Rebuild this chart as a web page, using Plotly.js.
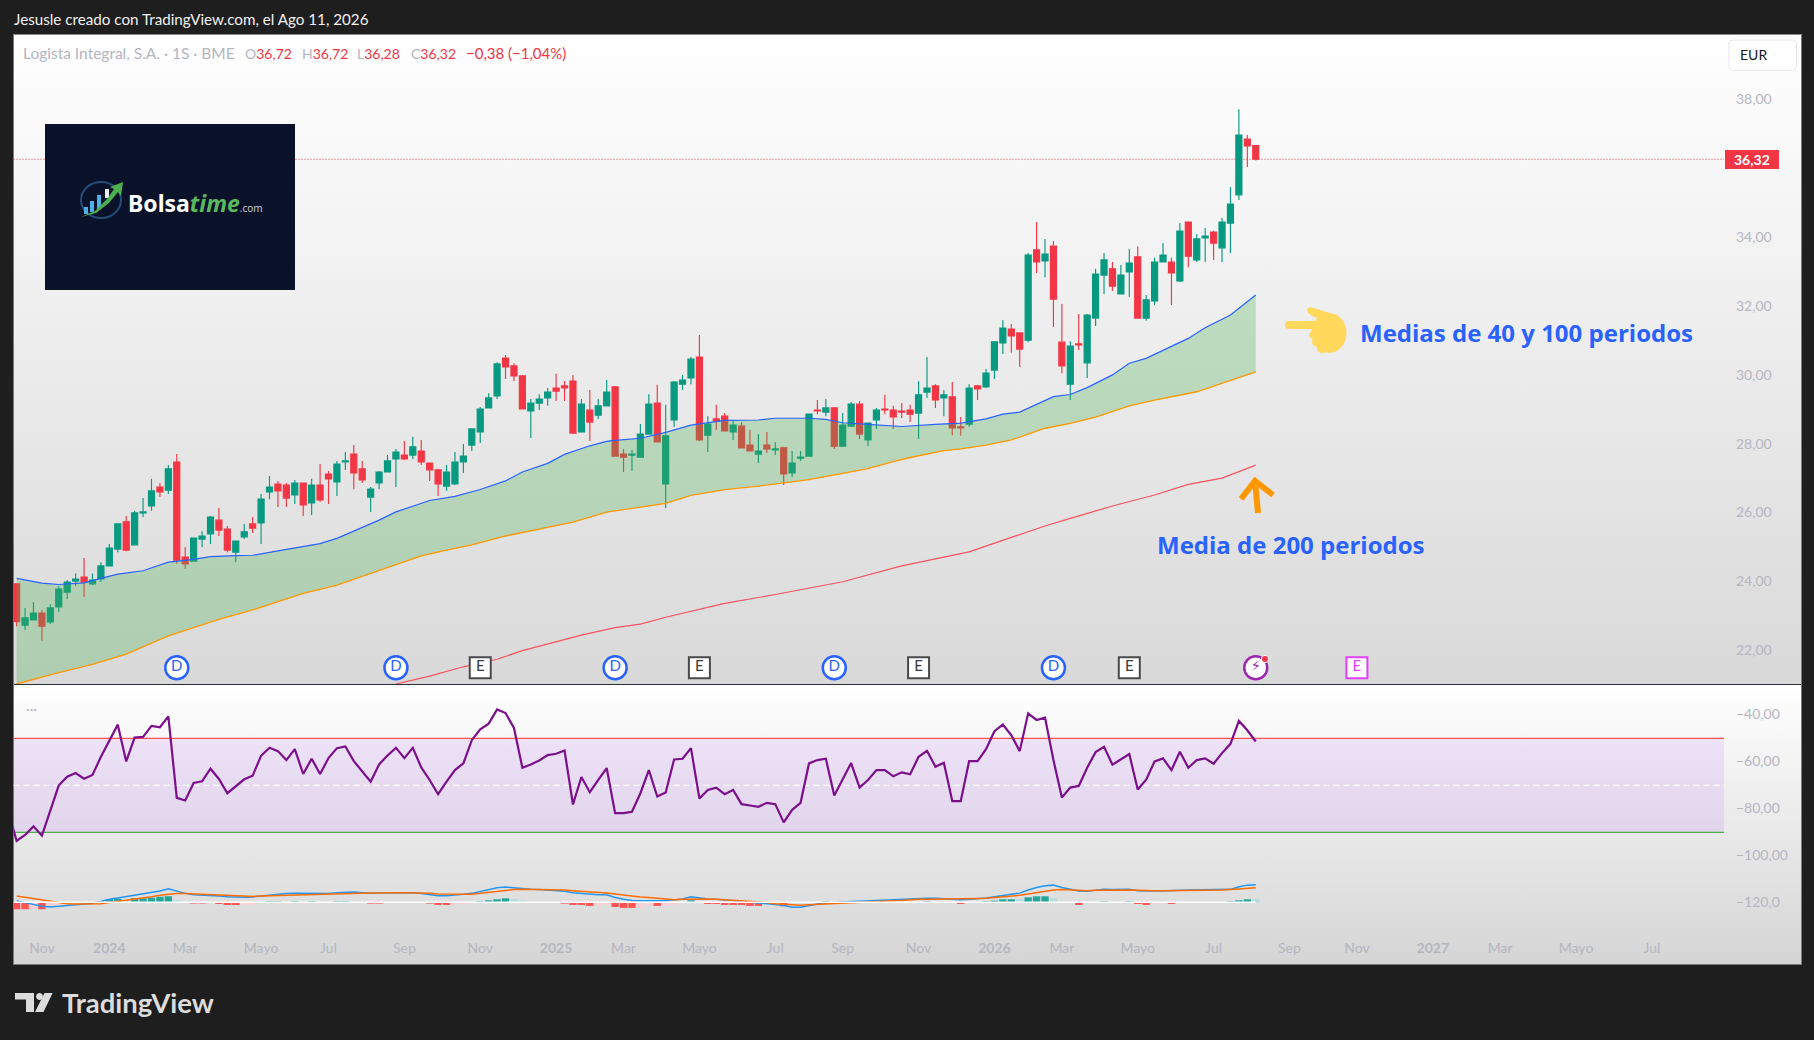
<!DOCTYPE html>
<html><head><meta charset="utf-8">
<script src="https://cdn.plot.ly/plotly-3.0.1.min.js"></script>
<style>
html,body{margin:0;padding:0;background:#1e1e1e;width:1814px;height:1040px;overflow:hidden}
#frame{position:absolute;left:13px;top:34px;width:1787px;height:929px;border:1.5px solid #7a7a7a;border-top-color:#8a8a8a;box-sizing:content-box}
#p1{position:absolute;left:0;top:0;width:100%;height:650px;background:linear-gradient(#ffffff,#d9d9d9);border-bottom:1.5px solid #2a2e39;box-sizing:border-box}
#p2{position:absolute;left:0;top:650px;width:100%;height:279px;background:linear-gradient(#ffffff,#d5d5d5)}
#chart{position:absolute;left:0;top:0;width:1814px;height:1040px}
</style></head><body>
<div id="frame"><div id="p1"></div><div id="p2"></div></div>
<div id="chart"></div>
<script>
// ---------- data ----------
const firstWeek = Date.UTC(2023, 9, 16);
const open = [23.93,22.73,22.88,23.08,22.82,23.26,23.69,24.01,24.13,23.93,
24.07,24.45,24.94,25.73,25.06,25.99,26.19,26.74,26.65,27.47,
24.71,24.59,25.23,25.38,25.78,25.52,24.85,25.29,25.67,25.70,
26.60,26.83,26.80,26.51,26.86,26.28,26.80,27.12,26.89,27.47,
27.70,27.27,26.45,26.86,27.18,27.56,27.67,27.67,27.79,27.44,
27.24,26.77,26.83,27.47,27.96,28.34,29.04,29.39,30.49,30.26,
29.97,28.95,29.18,29.33,29.62,29.68,29.82,28.34,28.98,28.83,
29.10,29.65,27.70,27.67,27.61,28.28,29.18,26.83,28.69,29.73,
29.91,30.52,28.25,28.72,28.80,28.34,28.51,27.96,27.70,27.96,
27.82,27.88,27.15,27.58,27.64,28.98,28.92,29.04,27.93,28.51,
29.15,28.11,28.69,29.01,28.98,28.95,28.98,28.89,29.50,29.68,
29.33,29.36,28.49,28.57,29.68,29.65,30.14,30.93,31.33,31.22,
31.01,33.63,33.31,33.74,30.95,29.73,30.90,30.35,31.65,32.90,
33.08,32.35,32.99,33.43,31.65,32.15,33.28,33.28,32.73,34.44,
33.34,33.98,34.15,33.69,34.41,35.23,36.85];
const high = [23.93,23.23,23.40,23.17,23.34,23.87,24.04,24.23,24.68,24.23,
24.56,25.09,25.67,25.90,26.05,26.42,26.98,26.86,27.38,27.70,
25.00,25.26,25.46,25.90,26.13,25.61,25.17,25.67,25.87,26.54,
27.06,26.92,26.86,26.95,26.86,26.98,27.41,27.21,27.50,27.76,
27.96,27.50,26.74,27.21,27.67,27.85,28.08,28.20,28.11,27.44,
27.27,27.38,27.76,27.99,28.43,29.07,29.47,30.37,30.58,30.34,
30.00,29.30,29.44,29.62,30.03,29.82,30.00,29.30,29.56,29.30,
29.85,29.68,27.85,27.82,28.57,29.44,29.71,29.13,29.82,30.00,
30.52,31.16,28.80,29.13,28.89,28.69,28.63,28.40,28.28,28.34,
28.05,27.91,27.79,27.79,28.86,29.27,29.30,29.07,28.89,29.21,
29.24,28.60,29.04,29.42,29.10,29.18,29.13,29.82,30.52,29.73,
29.56,29.79,28.78,29.73,29.71,30.17,30.96,31.59,31.48,31.22,
33.54,34.44,33.95,33.89,32.06,30.98,31.77,31.77,33.08,33.54,
33.28,33.19,33.66,33.74,32.32,33.40,33.83,33.40,34.41,34.44,
34.09,34.27,34.18,34.56,35.46,37.72,36.97];
const low = [22.70,22.59,22.88,22.28,22.76,23.11,23.49,23.87,23.55,23.89,
23.98,24.45,24.85,24.88,25.06,25.87,26.05,26.45,26.54,24.51,
24.36,24.59,25.00,25.09,25.32,24.85,24.56,25.23,25.41,25.09,
26.39,26.16,26.16,26.25,25.90,25.93,26.31,26.25,26.48,27.24,
26.68,26.86,26.02,26.68,27.18,26.74,27.53,27.56,27.38,26.92,
26.48,26.63,26.80,27.15,27.79,28.02,29.04,29.30,29.88,29.82,
29.01,28.17,28.98,29.10,29.24,29.24,28.28,28.34,28.08,28.72,
29.10,27.64,27.18,27.21,27.61,28.28,28.05,26.13,28.49,29.56,
29.73,28.08,27.76,28.40,28.37,28.11,27.88,27.79,27.44,27.73,
27.67,26.80,27.03,27.50,27.64,28.86,28.80,27.85,27.93,28.49,
28.14,27.93,28.43,28.86,28.43,28.75,28.63,28.14,29.33,29.04,
28.80,28.25,28.23,28.49,29.27,29.62,29.88,30.61,30.64,30.23,
30.95,32.96,32.84,31.39,30.05,29.27,30.72,29.91,31.42,32.35,
32.44,32.35,32.26,31.63,31.57,32.03,33.28,32.03,32.70,33.13,
33.28,33.28,33.34,33.28,33.54,35.08,36.04];
const close = [22.83,22.94,23.08,22.70,23.23,23.78,23.98,24.07,23.98,24.04,
24.45,24.97,25.67,24.91,25.99,26.02,26.63,26.60,27.27,24.62,
24.51,25.26,25.32,25.87,25.49,24.91,25.17,25.44,25.55,26.39,
26.74,26.63,26.42,26.86,26.22,26.80,26.37,26.98,27.41,27.50,
27.15,26.95,26.68,27.18,27.50,27.76,27.56,27.91,27.47,27.24,
26.83,27.18,27.47,27.64,28.43,29.01,29.33,30.32,30.23,29.97,
29.01,29.18,29.30,29.50,29.53,29.62,28.31,29.15,28.63,29.10,
29.50,27.64,27.61,27.70,28.28,29.15,28.05,28.23,29.79,29.85,
30.46,28.11,28.57,28.66,28.37,28.54,27.88,27.79,27.79,27.85,
27.85,27.12,27.44,27.61,28.86,28.95,29.04,27.93,28.54,29.15,
28.28,28.60,28.98,28.98,28.78,28.92,28.86,29.42,29.62,29.27,
29.42,28.46,28.46,29.62,29.59,30.05,30.96,31.36,31.13,30.75,
33.48,33.28,33.51,32.20,30.26,30.84,30.87,31.74,32.93,33.34,
32.58,32.90,33.25,31.65,32.18,33.28,33.48,32.96,34.18,33.45,
33.95,34.03,33.83,34.44,34.96,36.97,36.65];
// the last bar is the one printed in the chart's header
const lastBar = {open:36.72, high:36.72, low:36.28, close:36.32};
const lastPrice = lastBar.close;

const ma40Weeks = [0,3,5,8,10,12,15,18,21,23,26,28,31,33,36,38,41,43,45,48,49,52,55,58,60,63,65,68,70,71,74,77,80,84,88,90,94,96,98,101,105,109,112,115,117,119,122,123,125,127,130,132,134,136,139,141,144,147];
const ma40 = [24.09,23.95,23.91,23.96,24.09,24.21,24.31,24.56,24.64,24.72,24.75,24.76,24.89,24.98,25.10,25.25,25.57,25.78,26.02,26.28,26.35,26.47,26.67,26.92,27.18,27.43,27.69,27.94,28.07,28.10,28.16,28.33,28.54,28.68,28.69,28.74,28.74,28.71,28.61,28.56,28.50,28.56,28.60,28.72,28.86,28.92,29.27,29.37,29.43,29.63,30.00,30.34,30.48,30.72,31.06,31.37,31.74,32.32];
const ma100Weeks = [0,5,9,13,18,24,28,34,38,43,48,51,54,58,61,66,70,71,74,77,80,84,88,91,94,98,101,104,106,110,112,115,118,120,122,125,128,132,135,140,143,144,147];
const ma100 = [21.02,21.35,21.59,21.89,22.42,22.90,23.17,23.65,23.89,24.31,24.74,24.91,25.06,25.32,25.47,25.72,26.01,26.05,26.15,26.27,26.50,26.67,26.77,26.87,26.96,27.14,27.28,27.48,27.60,27.80,27.85,27.96,28.11,28.28,28.45,28.59,28.77,29.10,29.27,29.51,29.75,29.83,30.09];
const ma200Weeks = [45,49,53,57,60,64,67,71,74,77,80,84,90,98,105,113,118,122,125,130,135,139,143,147];
const ma200 = [21.02,21.25,21.52,21.74,21.99,22.25,22.44,22.66,22.76,22.96,23.14,23.36,23.62,23.99,24.45,24.86,25.28,25.61,25.83,26.19,26.51,26.82,27.00,27.38];

const oscillatorBefore = -80.7;
const oscillator = [-93.69,-91.15,-87.48,-91.43,-80.43,-69.99,-66.32,-64.77,-67.17,-65.61,
-57.85,-50.80,-44.17,-59.83,-49.67,-49.39,-44.73,-45.30,-40.64,-75.35,
-76.48,-69.00,-68.29,-62.93,-67.31,-73.37,-70.55,-67.45,-65.90,-57.43,
-54.04,-55.45,-59.26,-54.61,-65.19,-58.70,-65.19,-58.42,-54.18,-53.48,
-59.69,-63.92,-68.44,-61.10,-57.29,-54.04,-58.42,-54.04,-62.37,-67.73,
-73.80,-68.44,-63.50,-60.68,-50.80,-46.14,-43.74,-37.68,-39.23,-45.58,
-62.51,-61.10,-59.41,-57.15,-56.58,-55.17,-78.17,-66.46,-72.95,-67.73,
-62.65,-81.84,-81.84,-81.28,-73.37,-63.50,-74.79,-73.09,-58.98,-58.70,
-54.18,-75.63,-71.96,-70.98,-73.80,-71.96,-78.03,-78.59,-79.16,-77.47,
-78.03,-85.79,-80.43,-77.47,-60.68,-59.26,-58.70,-74.36,-67.45,-60.53,
-70.98,-67.73,-63.50,-63.50,-66.18,-64.48,-65.33,-57.85,-55.31,-62.09,
-60.39,-76.76,-76.76,-59.69,-59.69,-54.61,-46.99,-44.17,-48.68,-55.45,
-39.37,-42.19,-41.20,-59.26,-75.21,-70.98,-70.27,-62.51,-55.88,-53.62,
-61.24,-58.98,-56.72,-71.82,-67.59,-59.83,-58.56,-63.50,-55.74,-62.51,
-59.26,-58.56,-60.82,-56.30,-52.35,-42.61,-46.57,-51.36];

const macd = [-119.2,-119.9,-120.7,-121.5,-121.8,-121.5,-121.2,-120.8,-120.5,-120.2,
-119.5,-118.5,-118.0,-117.4,-116.8,-116.3,-115.7,-115.0,-114.0,-115.1,
-116.0,-116.6,-116.7,-116.8,-117.1,-117.4,-117.7,-117.7,-117.5,-117.1,
-116.6,-116.3,-116.1,-116.0,-116.0,-116.0,-116.3,-116.1,-115.7,-115.4,
-115.4,-115.7,-116.0,-115.9,-115.9,-115.7,-115.7,-115.7,-116.1,-116.7,
-117.0,-117.0,-116.8,-116.4,-116.0,-115.3,-114.3,-113.6,-113.3,-113.7,
-114.0,-114.3,-114.4,-114.6,-114.7,-115.1,-115.7,-116.0,-116.4,-116.6,
-116.6,-117.8,-118.5,-119.0,-119.1,-119.0,-119.1,-119.2,-118.8,-118.4,
-117.5,-118.1,-118.4,-118.5,-118.8,-119.0,-119.2,-119.5,-120.1,-120.4,
-120.7,-121.2,-121.9,-121.9,-121.1,-120.5,-120.2,-119.9,-119.7,-119.5,
-119.4,-119.2,-119.0,-118.8,-118.8,-118.7,-118.4,-118.2,-118.1,-118.1,
-118.4,-118.5,-118.7,-118.5,-118.4,-118.0,-117.4,-116.8,-116.4,-115.9,
-114.6,-113.5,-112.8,-112.5,-113.5,-114.3,-115.0,-115.1,-114.7,-114.3,
-114.4,-114.4,-114.3,-114.9,-115.1,-115.0,-115.0,-115.0,-114.7,-114.6,
-114.6,-114.6,-114.6,-114.6,-114.3,-113.2,-112.5,-112.3];
const macdSignal = [-117.1,-117.7,-118.2,-118.8,-119.4,-119.9,-120.4,-120.5,-120.5,-120.5,
-120.4,-119.9,-119.4,-119.1,-118.7,-118.1,-117.4,-116.8,-116.4,-116.1,
-116.1,-116.3,-116.3,-116.4,-116.6,-116.8,-117.0,-117.1,-117.3,-117.1,
-117.0,-116.8,-116.7,-116.6,-116.4,-116.4,-116.3,-116.3,-116.0,-115.9,
-115.9,-115.9,-115.9,-115.9,-115.7,-115.7,-115.7,-115.7,-115.9,-116.0,
-116.3,-116.4,-116.6,-116.4,-116.4,-116.0,-115.6,-115.1,-114.7,-114.4,
-114.3,-114.3,-114.4,-114.4,-114.6,-114.6,-114.9,-115.1,-115.4,-115.7,
-115.9,-116.3,-116.8,-117.3,-117.5,-117.8,-118.1,-118.4,-118.7,-118.5,
-118.4,-118.2,-118.4,-118.5,-118.7,-118.8,-119.0,-119.2,-119.7,-119.9,
-120.4,-120.7,-120.9,-121.1,-120.9,-120.7,-120.5,-120.4,-120.2,-119.9,
-119.7,-119.5,-119.2,-119.1,-119.1,-119.0,-118.7,-118.5,-118.5,-118.5,
-118.5,-118.5,-118.4,-118.4,-118.2,-118.1,-117.8,-117.5,-117.3,-116.8,
-116.3,-115.7,-115.0,-114.6,-114.4,-114.6,-114.7,-114.9,-114.7,-114.6,
-114.6,-114.6,-114.6,-114.7,-114.9,-114.9,-114.9,-114.9,-114.9,-114.7,
-114.7,-114.7,-114.6,-114.6,-114.4,-114.2,-113.9,-113.6];
const macdHist = [-2.96,-2.96,-2.9,-2.96,-1.83,-1.55,-0.3,-0.1,0,0,
.42,1.27,1.55,.56,1.69,1.7,1.98,2.4,2.54,.85,
.1,-.56,-.56,-.42,-.71,-1.13,-1.13,-1.1,-1,-.1,
.42,.42,.28,.42,.28,.42,0,0,.42,.42,
.28,0,-.56,-.56,0,0,0,0,0,-.56,
-1.13,-1.13,-.85,-.84,0,.42,.85,1.27,1.69,1.27,
.71,.42,0,0,0,-.56,-1.13,-1.13,-1.55,-1.5,
-.99,-1.98,-2.4,-2.4,-2.38,-1.4,-1.55,-1.5,-.99,0,
.85,.1,-.71,-.71,-1.13,-1.13,-1.13,-1.55,-1.55,-.5,
-.3,-1.7,-.3,-.1,0,.05,.42,.28,.42,.28,
0,0,0,0,0,0,0,0,.42,.1,
0,0,-.71,-.1,0,.42,.71,1.27,1.27,1.25,
2.12,2.54,2.54,1.69,.42,.1,-1.13,-.56,0,.42,
0,0,.42,-.71,-1.13,-.7,0,-.71,0,0,
0,0,0,0,.42,.85,1.27,1.25];
const macdZero = -119.8;
const rsiUpper = -50, rsiMiddle = -70, rsiLower = -90;

const dividendWeeks = [19,45,71,97,123];
const earningsWeeks = [55,81,107,132];
const nextEarningsWeek = 159;
const newsWeek = 147;

const priceTicks = [38,34,32,30,28,26,24,22];
const priceTickText = ['38,00','34,00','32,00','30,00','28,00','26,00','24,00','22,00'];
const oscTicks = [-40,-60,-80,-100,-120];
const oscTickText = ['−40,00','−60,00','−80,00','−100,00','−120,0'];
const timeTicks = ['2023-11-06','2024-01-01','2024-03-04','2024-05-06','2024-07-01','2024-09-02','2024-11-04','2025-01-06','2025-03-03','2025-05-05','2025-07-07','2025-09-01','2025-11-03','2026-01-05','2026-03-02','2026-05-04','2026-07-06','2026-09-07','2026-11-02','2027-01-04','2027-03-01','2027-05-03','2027-07-05'];
const timeTickText = ['Nov','<b>2024</b>','Mar','Mayo','Jul','Sep','Nov','<b>2025</b>','Mar','Mayo','Jul','Sep','Nov','<b>2026</b>','Mar','Mayo','Jul','Sep','Nov','<b>2027</b>','Mar','Mayo','Jul'];

// The price labels sit about 2px above their true level, so readings made
// against them run this far low; the header's last bar shows the size of it.
const labelReadingOffset = 0.055;
const oscLabelOffset = 0.45;
const priceRead = a => a.map(v => v + labelReadingOffset);

// ---------- helpers ----------
const W = 1814, H = 1040;
const X = p => p / W, Y = p => 1 - p / H;
const week = i => new Date(firstWeek + i * 7 * 864e5).toISOString().slice(0, 19).replace('T', ' ');
const dates = macd.map((_, i) => week(i));
const weeks = a => a.map(week);
const P = (pts, closed) => pts.map((q, k) => (k ? 'L' : 'M') + X(q[0]) + ',' + Y(q[1])).join(' ') + (closed ? ' Z' : '');
const ell = (cx, cy, rx, ry) => { const k = .5523;
  const c = (a,b,d,e,f,g)=>`C${X(a)},${Y(b)} ${X(d)},${Y(e)} ${X(f)},${Y(g)}`;
  return `M${X(cx-rx)},${Y(cy)} `+c(cx-rx,cy-ry*k,cx-rx*k,cy-ry,cx,cy-ry)+' '
  +c(cx+rx*k,cy-ry,cx+rx,cy-ry*k,cx+rx,cy)+' '+c(cx+rx,cy+ry*k,cx+rx*k,cy+ry,cx,cy+ry)+' '+c(cx-rx*k,cy+ry,cx-rx,cy+ry*k,cx-rx,cy)+' Z'; };
const round = (x0,y0,x1,y1,r) => `M${X(x0+r)},${Y(y0)} L${X(x1-r)},${Y(y0)} Q${X(x1)},${Y(y0)} ${X(x1)},${Y(y0+r)} L${X(x1)},${Y(y1-r)} Q${X(x1)},${Y(y1)} ${X(x1-r)},${Y(y1)} L${X(x0+r)},${Y(y1)} Q${X(x0)},${Y(y1)} ${X(x0)},${Y(y1-r)} L${X(x0)},${Y(y0+r)} Q${X(x0)},${Y(y0)} ${X(x0+r)},${Y(y0)} Z`;

const FONT = 'Lato, "Noto Sans", sans-serif';
const GREY = '#b4b6c0', RED = '#f23645', TEAL = '#089981';
const xRange = [week(-0.37), week(202.55)];

const histColor = macdHist.map((h, i) => {
  const prev = i ? macdHist[i - 1] : h;
  if (h >= 0) return h >= prev ? '#26a69a' : '#b2dfdb';
  return h <= prev ? '#ff5252' : '#ffcdd2';
});

const markerY = 21.55;
const traces = [
  {type:'candlestick', x:dates,
   open:[...priceRead(open), lastBar.open], high:[...priceRead(high), lastBar.high],
   low:[...priceRead(low), lastBar.low], close:[...priceRead(close), lastBar.close],
   xaxis:'x', yaxis:'y', whiskerwidth:0,
   increasing:{line:{color:TEAL,width:1.15},fillcolor:TEAL},
   decreasing:{line:{color:RED,width:1.15},fillcolor:RED}, hoverinfo:'skip'},
  {type:'scatter', mode:'lines', x:weeks(ma100Weeks), y:priceRead(ma100), xaxis:'x', yaxis:'y', line:{color:'#ff9800',width:1.3}, hoverinfo:'skip'},
  {type:'scatter', mode:'lines', x:weeks(ma40Weeks), y:priceRead(ma40), xaxis:'x', yaxis:'y', line:{color:'#2962ff',width:1.2},
   fill:'tonexty', fillcolor:'rgba(76,175,80,0.3)', hoverinfo:'skip'},
  {type:'scatter', mode:'lines', x:weeks(ma200Weeks), y:priceRead(ma200), xaxis:'x', yaxis:'y', line:{color:'#f7525f',width:1.2}, hoverinfo:'skip'},
  {type:'scatter', mode:'markers+text', x:weeks(dividendWeeks), y:dividendWeeks.map(()=>markerY), xaxis:'x', yaxis:'y',
   marker:{symbol:'circle',size:23,color:'#ffffff',line:{color:'#2962ff',width:2.5}}, text:dividendWeeks.map(()=>'D'),
   textposition:'middle center', textfont:{family:FONT,size:15,color:'#2962ff'}, hoverinfo:'skip'},
  {type:'scatter', mode:'markers+text', x:weeks(earningsWeeks), y:earningsWeeks.map(()=>markerY), xaxis:'x', yaxis:'y',
   marker:{symbol:'square',size:21,color:'#ffffff',line:{color:'#4a4a4a',width:2}}, text:earningsWeeks.map(()=>'E'),
   textposition:'middle center', textfont:{family:FONT,size:15,color:'#3a3a3a'}, hoverinfo:'skip'},
  {type:'scatter', mode:'markers+text', x:[week(nextEarningsWeek)], y:[markerY], xaxis:'x', yaxis:'y',
   marker:{symbol:'square',size:21,color:'#ffffff',line:{color:'#e040fb',width:2}}, text:['E'],
   textposition:'middle center', textfont:{family:FONT,size:15,color:'#e040fb'}, hoverinfo:'skip'},
  {type:'scatter', mode:'markers+text', x:[week(newsWeek)], y:[markerY], xaxis:'x', yaxis:'y',
   marker:{symbol:'circle',size:23,color:'#ffffff',line:{color:'#9c27b0',width:2.5}}, text:['⚡'],
   textposition:'middle center', textfont:{family:'DejaVu Sans',size:15,color:'#9c27b0'}, hoverinfo:'skip'},
  {type:'bar', x:dates, y:macdHist, base:macdZero, xaxis:'x2', yaxis:'y2', width:7.4/8.43*7*864e5,
   marker:{color:histColor,line:{width:0}}, hoverinfo:'skip'},
  {type:'scatter', mode:'lines', x:dates, y:macd, xaxis:'x2', yaxis:'y2', line:{color:'#2196f3',width:1.5}, hoverinfo:'skip'},
  {type:'scatter', mode:'lines', x:dates, y:macdSignal, xaxis:'x2', yaxis:'y2', line:{color:'#ff6d00',width:1.5}, hoverinfo:'skip'},
  {type:'scatter', mode:'lines', x:[week(-1), ...dates], y:[oscillatorBefore, ...oscillator], xaxis:'x2', yaxis:'y2', line:{color:'#7b0f8c',width:2.2}, hoverinfo:'skip'}
];

const pxShape = o => Object.assign({xref:'paper',yref:'paper',layer:'above'}, o);
const shapes = [
  {type:'rect',xref:'paper',yref:'y2',x0:X(13.5),x1:X(1724),y0:rsiLower,y1:rsiUpper,fillcolor:'rgba(165,70,245,0.12)',line:{width:0},layer:'below'},
  {type:'line',xref:'paper',yref:'y2',x0:X(13.5),x1:X(1724),y0:rsiUpper,y1:rsiUpper,line:{color:'#ff5252',width:1.2},layer:'below'},
  {type:'line',xref:'paper',yref:'y2',x0:X(13.5),x1:X(1724),y0:rsiLower,y1:rsiLower,line:{color:'#4caf50',width:1.2},layer:'below'},
  {type:'line',xref:'paper',yref:'y2',x0:X(13.5),x1:X(1724),y0:rsiMiddle,y1:rsiMiddle,line:{color:'#ffffff',width:1.2,dash:'6px,4px'},layer:'below'},
  {type:'line',xref:'x2',yref:'y2',x0:week(-0.37),x1:week(147),y0:macdZero,y1:macdZero,line:{color:'#ffffff',width:1.5},layer:'above'},
  {type:'line',xref:'paper',yref:'y',x0:X(13.5),x1:X(1724),y0:lastPrice,y1:lastPrice,line:{color:RED,width:1,dash:'1px,2px'},layer:'below'},
  pxShape({type:'rect',x0:X(1725),x1:X(1779),y0:Y(150),y1:Y(169),fillcolor:RED,line:{width:0}}),
  pxShape({type:'path',path:round(1729,40,1796.5,70.5,4),fillcolor:'#ffffff',line:{color:'#e6e7ec',width:1}}),
  // logo panel
  pxShape({type:'rect',x0:X(45),x1:X(295),y0:Y(124),y1:Y(290),fillcolor:'#0a122a',line:{width:0}}),
  pxShape({type:'path',path:ell(101,200,20,18),line:{color:'#234d78',width:2},fillcolor:'rgba(0,0,0,0)'}),
  pxShape({type:'rect',x0:X(84),x1:X(88),y0:Y(207),y1:Y(214),fillcolor:'#4fb0e6',line:{width:0}}),
  pxShape({type:'rect',x0:X(90),x1:X(94),y0:Y(201),y1:Y(212),fillcolor:'#4fb0e6',line:{width:0}}),
  pxShape({type:'rect',x0:X(97),x1:X(101),y0:Y(195),y1:Y(209),fillcolor:'#4fb0e6',line:{width:0}}),
  pxShape({type:'rect',x0:X(105),x1:X(109),y0:Y(189),y1:Y(198),fillcolor:'#e8eef5',line:{width:0}}),
  pxShape({type:'path',path:P([[81,217],[95,211],[107,199],[114,189],[110,187],[123,182],[121,196],[118,192],[109,203],[96,213]],true),fillcolor:'#4caf50',line:{width:0}}),
  // yellow hand
  pxShape({type:'path',path:round(1285,321,1330,329,4),fillcolor:'#ffd85c',line:{width:0}}),
  pxShape({type:'path',path:ell(1329,333,17.5,20),fillcolor:'#ffd85c',line:{width:0}}),
  pxShape({type:'path',path:P([[1307,309],[1310,307],[1330,313],[1330,321],[1314,317],[1308,313]],true),fillcolor:'#ffd85c',line:{width:0}}),
  pxShape({type:'path',path:ell(1314,335,5,4),fillcolor:'#ffd85c',line:{width:0}}),
  pxShape({type:'path',path:ell(1317,342,5,4.5),fillcolor:'#ffd85c',line:{width:0}}),
  pxShape({type:'path',path:ell(1322,349,5,4),fillcolor:'#ffd85c',line:{width:0}}),
  // orange arrow
  pxShape({type:'path',path:P([[1258,513],[1255,481]]),line:{color:'#ff9800',width:6}}),
  pxShape({type:'path',path:P([[1241,499],[1255,481],[1273,495]]),line:{color:'#ff9800',width:6}}),
  // news badge dot
  pxShape({type:'path',path:ell(1265,659,3.5,3.5),fillcolor:'#f23645',line:{color:'#ffffff',width:1}}),
  // TradingView mark
  pxShape({type:'path',path:P([[15,993],[34,993],[34,1012],[26,1012],[26,999.5],[15,999.5]],true),fillcolor:'#dcdcdc',line:{width:0}}),
  pxShape({type:'path',path:ell(39.5,996.5,3.4,3.4),fillcolor:'#dcdcdc',line:{width:0}}),
  pxShape({type:'path',path:P([[44.5,993],[52.6,993],[43.5,1012],[35,1012]],true),fillcolor:'#dcdcdc',line:{width:0}})
];

const ann = (text, x, y, size, color, anchor, family) => ({text, xref:'paper', yref:'paper', x:X(x), y:Y(y), showarrow:false,
  xanchor:anchor||'left', yanchor:'middle', align:'left', font:{family:family||FONT,size,color}});
const r = s => `<span style="color:${RED}">${s}</span>`;
const annotations = [
  ann('Jesusle creado con TradingView.com, el Ago 11, 2026', 12, 19, 15.2, '#f0f0f0'),
  ann('Logista Integral, S.A. · 1S · BME', 21, 53, 15.5, GREY),
  ann(`O${r('36,72')}`, 243, 53, 14, GREY),
  ann(`H${r('36,72')}`, 300, 53, 14, GREY),
  ann(`L${r('36,28')}`, 355, 53, 14, GREY),
  ann(`C${r('36,32')}`, 408.5, 53, 14, GREY),
  ann(r('−0,38 (−1,04%)'), 464, 53, 15, GREY),
  ann('<b>36,32</b>', 1752, 159.5, 14, '#ffffff', 'center'),
  ann('EUR', 1738, 54, 14, '#131722'),
  ann('···', 24, 708, 14, GREY),
  ann('<b>Bolsa</b><span style="color:#5cb85c"><b><i>time</i></b></span><span style="font-size:10px;color:#c8ccd4">.com</span>', 126, 203, 23, '#ffffff', 'left', '"Noto Sans"'),
  ann('<b>Medias de 40 y 100 periodos</b>', 1358, 332, 24, '#2962ff', 'left', '"Open Sans"'),
  ann('<b>Media de 200 periodos</b>', 1155, 544, 24, '#2962ff', 'left', '"Open Sans"'),
  ann('<b>TradingView</b>', 60, 1002, 27.5, '#dcdcdc', 'left', 'Lato')
];

const tickFont = {family:FONT,size:14,color:GREY};
const layout = {
  width:W, height:H, margin:{l:0,r:0,t:0,b:0}, paper_bgcolor:'rgba(0,0,0,0)', plot_bgcolor:'rgba(0,0,0,0)',
  showlegend:false, hovermode:false, separators:',.', boxgap:0.1, boxgroupgap:0.2, barmode:'overlay',
  xaxis:{domain:[X(13.5),X(1724)], type:'date', range:xRange, anchor:'y', showticklabels:false, showgrid:false, zeroline:false, showline:false, ticks:'', rangeslider:{visible:false}},
  yaxis:{domain:[Y(684),Y(34.7)], range:[21.02+labelReadingOffset,39.883+labelReadingOffset], anchor:'x', side:'right', tickmode:'array',
         tickvals:priceTicks.map(v=>v+labelReadingOffset), ticktext:priceTickText,
         tickfont:tickFont, showgrid:false, zeroline:false, showline:false, ticks:'', ticklabelstandoff:11},
  xaxis2:{domain:[X(13.5),X(1724)], type:'date', range:xRange, anchor:'y2', matches:'x', tickmode:'array', tickvals:timeTicks, ticktext:timeTickText,
          tickfont:tickFont, showgrid:false, zeroline:false, showline:false, ticks:'', tickangle:0, ticklabelstandoff:8},
  yaxis2:{domain:[Y(930),Y(685)], range:[-131.6,-27.3], anchor:'x2', side:'right', tickmode:'array',
          tickvals:oscTicks.map(v=>v+oscLabelOffset), ticktext:oscTickText,
          tickfont:tickFont, showgrid:false, zeroline:false, showline:false, ticks:'', ticklabelstandoff:11},
  shapes, annotations
};
Plotly.newPlot('chart', traces, layout, {displayModeBar:false, staticPlot:true});
</script>
</body></html>
